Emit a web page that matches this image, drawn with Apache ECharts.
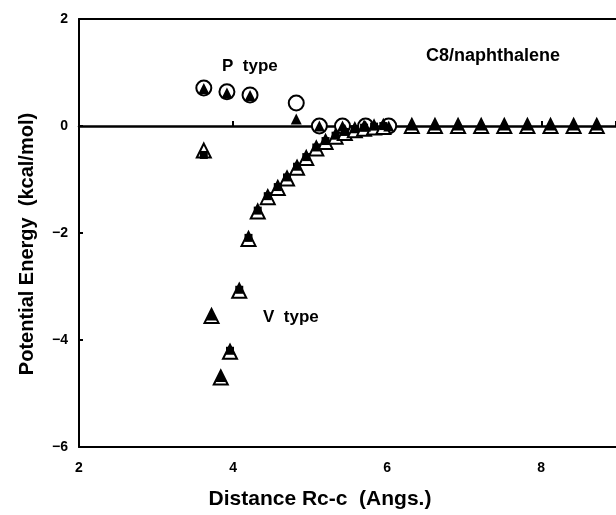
<!DOCTYPE html>
<html><head><meta charset="utf-8">
<script src="https://cdn.jsdelivr.net/npm/echarts@6/dist/echarts.min.js"></script>
<style>html,body{margin:0;padding:0;background:#fff}#c{width:616px;height:515px}</style>
</head><body><div id="c"></div>
<script>
// P type: open circles with filled triangles
const pX = [3.62, 3.92, 4.22, 4.82, 5.12, 5.42, 5.72, 6.02];
const pCircle = [0.71, 0.64, 0.58, 0.43, 0.00, 0.00, 0.00, 0.00];
const pTri = [0.68, 0.60, 0.55, 0.11, -0.02, -0.02, -0.02, -0.02];
// far tail (both types ~0)
const farX = [6.32, 6.62, 6.92, 7.22, 7.52, 7.82, 8.12, 8.42, 8.72, 9.02];
const farY = [0, 0, 0, 0, 0, 0, 0, 0, 0, 0];
// V type: open triangles with filled squares / filled triangles
const vX = [3.62, 3.72, 3.84, 3.96, 4.08, 4.20, 4.32, 4.45, 4.58, 4.70, 4.83, 4.95, 5.08, 5.20, 5.33, 5.45, 5.58, 5.70, 5.83, 5.95];
const vOpen = [-0.46, -3.55, -4.70, -4.22, -3.08, -2.11, -1.60, -1.33, -1.16, -0.98, -0.78, -0.60, -0.42, -0.30, -0.20, -0.13, -0.08, -0.05, -0.03, -0.02];
const vSquare = [-0.56, null, null, -4.22, -3.08, -2.11, -1.60, -1.33, -1.16, -0.98, -0.78, -0.60, -0.42, -0.30, -0.20, -0.13, -0.08, -0.05, -0.03, -0.02];
const vFilledTri = [null, -3.55, -4.70, null, null, null, null, null, null, null, null, null, null, null, null, null, null, null, null, null];
const xTicks = [2, 4, 6, 8];
const yTicks = [-6, -4, -2, 0, 2];

const F = '"Liberation Sans", Arial, sans-serif';
const zip = (xs, ys) => xs.map((x, i) => ys[i] == null ? null : [x, ys[i]]).filter(d => d);
const XMIN = 2, XMAX = 8.97;

const chart = echarts.init(document.getElementById('c'), null, {renderer: 'canvas'});
chart.setOption({
  animation: false,
  backgroundColor: '#fff',
  grid: {left: 79, top: 19, right: 0, height: 428, show: false},
  xAxis: [{
    type: 'value', min: XMIN, max: XMAX, interval: 2, position: 'bottom',
    axisLine: {show: true, onZero: false, lineStyle: {color: '#000', width: 2}},
    axisTick: {show: false}, splitLine: {show: false},
    axisLabel: {color: '#000', fontFamily: F, fontWeight: 'bold', fontSize: 14, margin: 14, showMaxLabel: false,
      formatter: v => xTicks.includes(v) ? String(v) : ''}
  }, {
    type: 'value', min: XMIN, max: XMAX, interval: 2, position: 'bottom',
    axisLine: {show: true, onZero: true, lineStyle: {color: '#000', width: 2.5}},
    axisTick: {show: true, inside: true, length: 5, lineStyle: {color: '#000', width: 2}},
    axisLabel: {show: false}, splitLine: {show: false}
  }, {
    type: 'value', min: XMIN, max: XMAX, interval: 2, position: 'top',
    axisLine: {show: true, onZero: false, lineStyle: {color: '#000', width: 2}},
    axisTick: {show: false}, axisLabel: {show: false}, splitLine: {show: false}
  }],
  yAxis: {
    type: 'value', min: -6, max: 2, interval: 2,
    axisLine: {show: true, onZero: false, lineStyle: {color: '#000', width: 2}}, splitLine: {show: false},
    axisTick: {show: true, inside: true, length: 4, lineStyle: {color: '#000', width: 2}},
    axisLabel: {color: '#000', fontFamily: F, fontWeight: 'bold', fontSize: 14, margin: 11,
      formatter: v => yTicks.includes(v) ? (v < 0 ? '\u2212' + (-v) : String(v)) : ''}
  },
  series: [
    {type: 'scatter', name: 'P circles', data: zip(pX, pCircle), symbol: 'circle', symbolSize: 15,
      itemStyle: {color: '#fff', borderColor: '#000', borderWidth: 2, opacity: 1}, z: 2},
    {type: 'scatter', name: 'V open triangles', data: zip(vX, vOpen).concat(zip(farX, farY)), symbol: 'triangle', symbolSize: 14,
      itemStyle: {color: '#fff', borderColor: '#000', borderWidth: 2, opacity: 1}, z: 3},
    {type: 'scatter', name: 'V squares', data: zip(vX, vSquare), symbol: 'rect', symbolSize: 8, symbolOffset: [0, -1],
      itemStyle: {color: '#000', opacity: 1}, z: 4},
    {type: 'scatter', name: 'filled triangles', data: zip(pX, pTri).concat(zip(vX, vFilledTri)).concat(zip(farX, farY)),
      symbol: 'triangle', symbolSize: 11, symbolOffset: [0, -1],
      itemStyle: {color: '#000', opacity: 1}, z: 5}
  ],
  graphic: [
    {type: 'text', x: 27, y: 244, rotation: Math.PI / 2,
      style: {text: 'Potential Energy  (kcal/mol)', fill: '#000', font: 'bold 20px ' + F, align: 'center', verticalAlign: 'middle'}},
    {type: 'text', x: 320, y: 499,
      style: {text: 'Distance Rc-c  (Angs.)', fill: '#000', font: 'bold 21px ' + F, align: 'center', verticalAlign: 'middle'}},
    {type: 'text', left: 222, top: 58, style: {text: 'P  type', fill: '#000', font: 'bold 17px ' + F}},
    {type: 'text', left: 263, top: 309, style: {text: 'V  type', fill: '#000', font: 'bold 17px ' + F}},
    {type: 'text', left: 426, top: 47, style: {text: 'C8/naphthalene', fill: '#000', font: 'bold 18px ' + F}}
  ]
});
</script></body></html>
